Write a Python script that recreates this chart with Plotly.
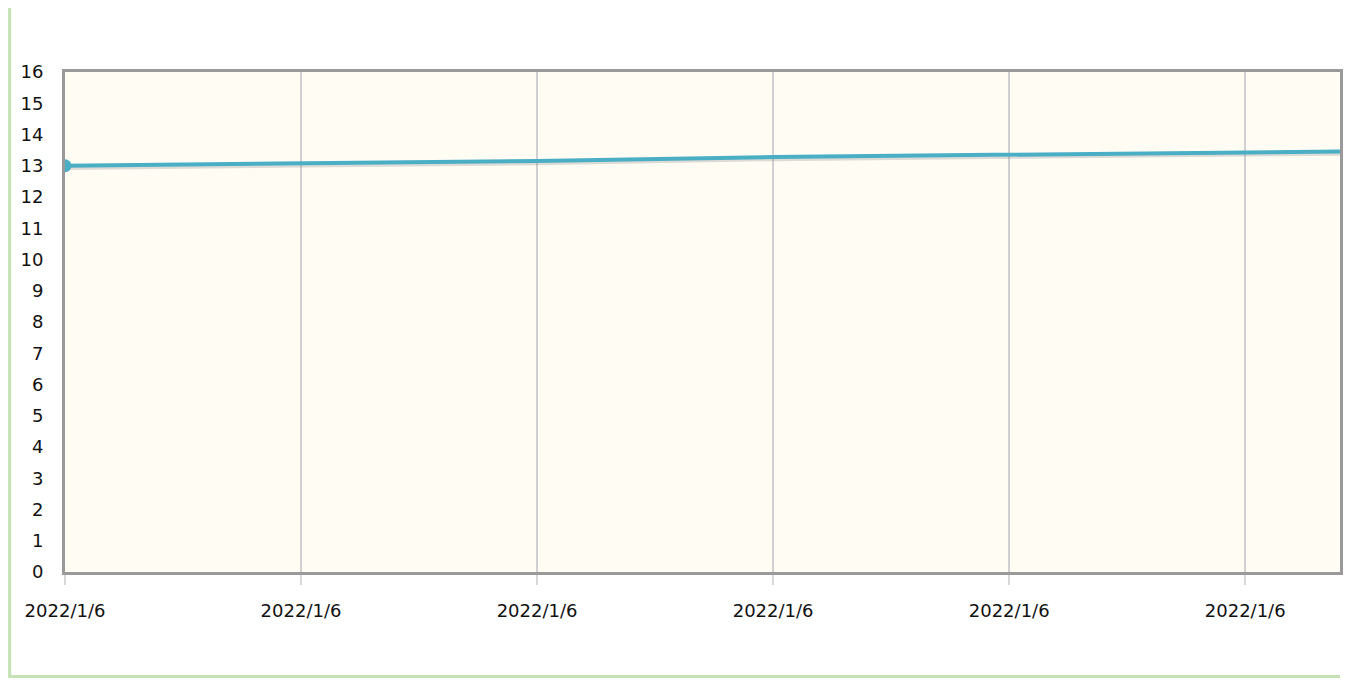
import plotly.graph_objects as go

# Data
x_index = [0, 1, 2, 3, 4, 5, 6]
values = [13.0, 13.08, 13.15, 13.28, 13.34, 13.42, 13.50]
tick_positions = [0, 1, 2, 3, 4, 5]
tick_labels = ["2022/1/6"] * 6
y_ticks = list(range(0, 17))

LINE = "#4aaec4"
OFF = 8  # default page margin of the browser

W, H = 1351 - 2 * OFF, 686 - 2 * OFF
L, T = 65 - OFF, 72 - OFF
R = 0
B = H - (572 - OFF)
PW = W - L - R
PH = H - T - B
GRID_STEP = 236.6

fig = go.Figure()
fig.add_trace(go.Scatter(
    x=x_index, y=[v - 0.07 for v in values], mode="lines",
    line=dict(color="rgba(120,120,120,0.25)", width=4),
    hoverinfo="skip", showlegend=False))
fig.add_trace(go.Scatter(
    x=x_index, y=values, mode="lines",
    line=dict(color=LINE, width=4), showlegend=False))
fig.add_trace(go.Scatter(
    x=x_index[:1], y=values[:1], mode="markers",
    marker=dict(color=LINE, size=13, symbol="circle"),
    cliponaxis=True, showlegend=False))

# svg-pixel -> paper fraction
fx = lambda px: (px - L) / PW
fy = lambda py: (H - B - py) / PH

fig.update_layout(
    width=W, height=H,
    margin=dict(l=L, r=R, t=T, b=B, pad=0),
    paper_bgcolor="white",
    plot_bgcolor="#fffcf4",
    font=dict(family="DejaVu Sans", size=18, color="#111"),
    showlegend=False,
    shapes=[
        dict(type="line", xref="paper", yref="paper",
             x0=fx(1.5), x1=fx(1.5), y0=fy(H - 1.5), y1=fy(0),
             line=dict(color="#c5e2b5", width=3)),
        dict(type="line", xref="paper", yref="paper",
             x0=fx(0), x1=fx(W), y0=fy(H - 1.5), y1=fy(H - 1.5),
             line=dict(color="#c5e2b5", width=3)),
    ],
)
fig.update_xaxes(
    range=[0, PW / GRID_STEP], tickmode="array", tickvals=tick_positions, ticktext=tick_labels,
    showgrid=True, gridcolor="#d0d0d0", gridwidth=2,
    showline=True, linecolor="#9a9a9a", linewidth=3, mirror=True,
    ticks="outside", ticklen=10, tickcolor="#d8d8d8", tickwidth=2,
    ticklabelstandoff=10, zeroline=False,
)
fig.update_yaxes(
    range=[0, 16], tickmode="array", tickvals=y_ticks,
    showgrid=False, showline=True, linecolor="#9a9a9a", linewidth=3, mirror=True,
    ticks="", ticklabelstandoff=15, tickfont=dict(size=18), zeroline=False,
)

fig.write_html("out.html")
